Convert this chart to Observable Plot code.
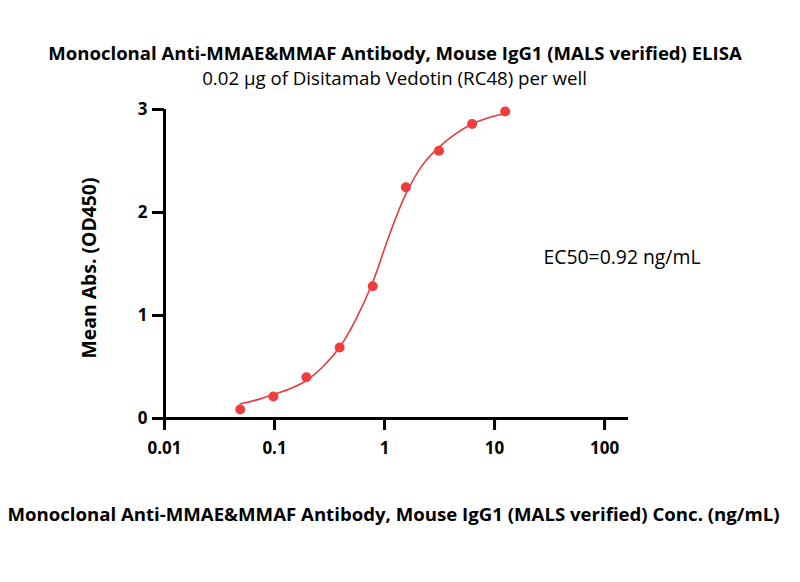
<!DOCTYPE html>
<html><head><meta charset="utf-8">
<script src="https://cdn.jsdelivr.net/npm/d3@7"></script>
<script src="https://cdn.jsdelivr.net/npm/@observablehq/plot@0.6"></script>
<style>
html,body{margin:0;padding:0;background:#fff;}
#wrap{position:relative;width:800px;height:582px;overflow:hidden;font-family:"Open Sans",sans-serif;color:#000;background:#fff}
#head{position:relative;height:96px}
.lbl{position:absolute;line-height:1;white-space:nowrap}
svg{display:block}
</style></head><body>
<div id="wrap">
  <div id="head"></div>
  <div id="chart"></div>
</div>
<script>
// ---- text ----
const titleText = "Monoclonal Anti-MMAE&MMAF Antibody, Mouse IgG1 (MALS verified) ELISA";
const subtitleText = "0.02 μg of Disitamab Vedotin (RC48) per well";
const xLabel = "Monoclonal Anti-MMAE&MMAF Antibody, Mouse IgG1 (MALS verified) Conc. (ng/mL)";
const yLabel = "Mean Abs. (OD450)";
const ec50Label = "EC50=0.92 ng/mL";

// ---- data ----
const conc = [0.0488, 0.0977, 0.195, 0.391, 0.781, 1.5625, 3.125, 6.25, 12.5];
const od   = [0.087, 0.214, 0.40, 0.69, 1.284, 2.246, 2.60, 2.86, 2.98];
// fitted curve
const fitConc = [0.0488, 0.069, 0.0977, 0.138, 0.195, 0.276, 0.391, 0.552, 0.781, 1.105, 1.5625, 2.21, 3.125, 4.42, 6.25, 8.84, 12.5];
const fitOD   = [0.143, 0.181, 0.233, 0.288, 0.369, 0.505, 0.692, 0.968, 1.323, 1.78, 2.18, 2.46, 2.634, 2.764, 2.86, 2.92, 2.958];

// ---- ticks ----
const xTicks = [0.01, 0.1, 1, 10, 100];
const xTickLabels = ["0.01", "0.1", "1", "10", "100"];
const yTicks = [0, 1, 2, 3];

const FONT = '"Open Sans", sans-serif';
const ctx = document.createElement("canvas").getContext("2d");
function fit(text, weight, target) {
  ctx.font = `${weight} 100px ${FONT}`;
  return 100 * target / ctx.measureText(text).width;
}

const wrap = document.getElementById("wrap");
function addLabel(text, weight, width, cx, cy, rotate) {
  const fs = fit(text, weight, width);
  const d = document.createElement("div");
  d.className = "lbl";
  d.textContent = text;
  d.style.fontWeight = weight;
  d.style.fontSize = fs + "px";
  d.style.left = cx + "px";
  d.style.top = cy + "px";
  d.style.transform = `translate(-50%,-50%)${rotate ? ` rotate(${rotate}deg)` : ""}`;
  wrap.appendChild(d);
}
addLabel(titleText, "bold", 694, 395, 53);
addLabel(subtitleText, "normal", 385, 394.5, 78);
addLabel(xLabel, "bold", 773, 393.5, 514);
addLabel(yLabel, "bold", 181, 89, 267.5, -90);

const points = conc.map((c, i) => ({c, v: od[i]}));
const curve = fitConc.map((c, i) => ({c, v: fitOD[i]}));
const xMax = 165;

const chart = Plot.plot({
  width: 800,
  height: 486,
  marginTop: 13,
  marginBottom: 164,
  marginLeft: 164,
  marginRight: 172,
  style: {fontFamily: FONT, color: "#000", background: "transparent", overflow: "visible"},
  x: {type: "log", domain: [0.01, xMax]},
  y: {domain: [0, 3]},
  marks: [
    Plot.axisX({ticks: xTicks, tickSize: 12, tickPadding: 11, strokeWidth: 3,
      tickFormat: d => xTickLabels[xTicks.indexOf(d)], fontSize: 17, fontWeight: "bold", label: null}),
    Plot.axisY({ticks: yTicks, tickSize: 12, tickPadding: 5, strokeWidth: 3,
      tickFormat: d => String(d), fontSize: 17, fontWeight: "bold", label: null}),
    Plot.ruleY([0], {x1: 0.01, x2: xMax, strokeWidth: 3, stroke: "#000"}),
    Plot.ruleX([0.01], {y1: 0, y2: 3, strokeWidth: 3, stroke: "#000"}),
    Plot.line(curve, {x: "c", y: "v", curve: "catmull-rom", stroke: "#e8393c", strokeWidth: 1.6}),
    Plot.dot(points, {x: "c", y: "v", r: 5, fill: "#f03c3f", stroke: "none"}),
    Plot.text([ec50Label], {text: d => d, frameAnchor: "right", textAnchor: "end", dx: 72, dy: -6,
      fontSize: fit(ec50Label, "normal", 157), fill: "#000"})
  ]
});
document.getElementById("chart").appendChild(chart);
</script>
</body></html>
